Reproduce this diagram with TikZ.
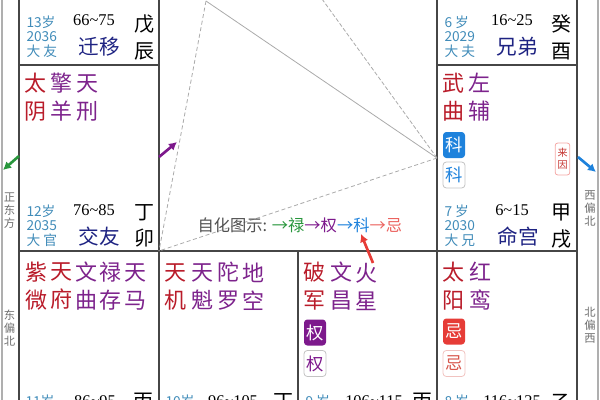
\documentclass[tikz,border=0pt]{standalone}
\usepackage{fontspec}
\setmainfont{Noto Sans CJK SC}
\newfontfamily\numfont{Liberation Serif}
\usetikzlibrary{arrows.meta}

\definecolor{gridgray}{RGB}{70,70,70}
\definecolor{framegray}{RGB}{175,175,175}
\definecolor{trigray}{RGB}{170,170,170}
\definecolor{mainred}{RGB}{185,28,42}
\definecolor{minorpurple}{RGB}{125,35,140}
\definecolor{palnavy}{RGB}{30,35,130}
\definecolor{agecol}{RGB}{65,140,185}
\definecolor{dirgray}{RGB}{110,110,110}
\definecolor{legendgray}{RGB}{80,80,80}
\definecolor{luGreen}{RGB}{40,150,60}
\definecolor{quanPurple}{RGB}{125,25,140}
\definecolor{keBlue}{RGB}{30,130,220}
\definecolor{jiRed}{RGB}{230,60,55}
\definecolor{jiSoft}{RGB}{215,85,75}
\definecolor{boxgray}{RGB}{195,195,195}

\tikzset{every picture/.style={line width=0.75pt}}
\tikzset{
  palline/.style={draw=gridgray, line width=1.3pt},
  star/.style={inner sep=0pt, align=center, font=\fontsize{16.5}{21}\selectfont},
  agetext/.style={anchor=west, inner sep=0pt, align=left, text=agecol, font=\fontsize{10.3}{10.9}\selectfont},
  rangetext/.style={inner sep=0pt, font=\numfont\fontsize{12.3}{14}\selectfont},
  palname/.style={inner sep=0pt, text=palnavy, font=\fontsize{15.5}{18}\selectfont},
  ganzhi/.style={inner sep=0pt, align=center, font=\fontsize{15}{19.9}\selectfont},
  sihuafill/.style={rounded corners=2.5pt, minimum width=16.5pt, minimum height=19.5pt, inner sep=0pt, text=white, font=\fontsize{13}{15}\selectfont},
  sihualine/.style={rounded corners=2.5pt, draw=boxgray, line width=0.6pt, minimum width=16.5pt, minimum height=19.5pt, inner sep=0pt, font=\fontsize{13}{15}\selectfont},
  dirtext/.style={inner sep=0pt, align=center, text=dirgray, font=\fontsize{8.5}{9.7}\selectfont},
  flyarrow/.style={line width=2pt, -{Latex[length=6pt,width=6.5pt]}}
}

\begin{document}
\begin{tikzpicture}[x=0.75pt,y=0.75pt,yscale=-1,xscale=1]
\useasboundingbox (0,0) rectangle (600,400);
\clip (0,0) rectangle (600,400);

%Outer frame
\draw [draw=framegray, line width=0.8pt] (2,-10) -- (2,410);
\draw [draw=framegray, line width=0.8pt] (598,-10) -- (598,410);

%Palace grid
\draw [palline] (19,-10) -- (19,410);
\draw [palline] (159,-10) -- (159,410);
\draw [palline] (437,-10) -- (437,410);
\draw [palline] (577,-10) -- (577,410);
\draw [palline] (298,251) -- (298,410);
\draw [palline] (19,65) -- (159,65);
\draw [palline] (437,65) -- (577,65);
\draw [palline] (19,251) -- (577,251);

%Sanfang lines
\coordinate (triTop) at (206,1);
\coordinate (triTopB) at (322,-1);
\coordinate (mingMid) at (437,158);
\coordinate (yinCorner) at (159,251);
\draw [draw=trigray, line width=0.6pt] (triTop) -- (mingMid);
\draw [draw=trigray, line width=0.6pt, dash pattern={on 3pt off 1.5pt}] (triTopB) -- (mingMid);
\draw [draw=trigray, line width=0.6pt, dash pattern={on 3pt off 2pt}] (triTop) -- (yinCorner);
\draw [draw=trigray, line width=0.6pt, dash pattern={on 3pt off 2pt}] (mingMid) -- (yinCorner);

% Direction labels
\node (dirZhengdong) [dirtext] at (9.5,211) {正\\东\\方};
\node (dirDongbei) [dirtext] at (9.5,328) {东\\偏\\北};
\node (dirXibei) [dirtext] at (590,208.5) {西\\偏\\北};
\node (dirBeixi) [dirtext] at (590,325.5) {北\\偏\\西};

%Fly arrows
\coordinate (arGreenS) at (19,156);
\coordinate (arGreenE) at (3,170);
\coordinate (arPurpleS) at (159,157);
\coordinate (arPurpleE) at (177,142);
\coordinate (arBlueS) at (578,157);
\coordinate (arBlueE) at (596,172);
\coordinate (arRedS) at (373,263);
\coordinate (arRedE) at (361,234);
\draw [flyarrow, draw=luGreen, fill=luGreen] (arGreenS) -- (arGreenE);
\draw [flyarrow, draw=quanPurple, fill=quanPurple] (arPurpleS) -- (arPurpleE);
\draw [flyarrow, draw=keBlue, fill=keBlue] (arBlueS) -- (arBlueE);
\draw [flyarrow, draw=jiRed, fill=jiRed] (arRedS) -- (arRedE);

% Text Node: legend
\node (legend) [anchor=west, inner sep=0pt, text=legendgray, font=\fontsize{12.2}{14}\selectfont] at (197,225) {自化图示: \textcolor{luGreen}{→禄}\textcolor{quanPurple}{→权}\textcolor{keBlue}{→科}\textcolor{jiRed!80!white}{→忌}};

%Palace chen: qianyi
\node (ageChen) [agetext] at (26,36.5) {13岁\\2036\\大 友};
\node (rangeChen) [rangetext] at (94,20) {66\textasciitilde75};
\node (nameChen) [palname] at (99,47) {迁移};
\node (gzChen) [ganzhi] at (144,37.5) {戊\\辰};

%Palace you: xiongdi
\node (ageYou) [agetext] at (444,36.5) {6 岁\\2029\\大 夫};
\node (rangeYou) [rangetext] at (512,20) {16\textasciitilde25};
\node (nameYou) [palname] at (517,47) {兄弟};
\node (gzYou) [ganzhi] at (561,37.5) {癸\\酉};

%Palace mao: jiaoyou
\node (sTaiyin) [star, text=mainred] at (35,97.5) {太\\阴};
\node (sQingyang) [star, text=minorpurple] at (61,97.5) {擎\\羊};
\node (sTianxing) [star, text=minorpurple] at (87,97.5) {天\\刑};
\node (ageMao) [agetext] at (26,225.5) {12岁\\2035\\大 官};
\node (rangeMao) [rangetext] at (94,210) {76\textasciitilde85};
\node (nameMao) [palname] at (99,236.5) {交友};
\node (gzMao) [ganzhi] at (144,226) {丁\\卯};

%Palace xu: minggong
\node (sWuqu) [star, text=mainred] at (453,97.5) {武\\曲};
\node (sZuofu) [star, text=minorpurple] at (479,97.5) {左\\辅};
\node (keFill) [sihuafill, fill=keBlue] at (454,145) {科};
\node (keLine) [sihualine, text=keBlue] at (454,175) {科};
\node (laiyin) [rounded corners=2pt, draw=jiRed!45!white, line width=0.6pt, minimum width=11pt, minimum height=24pt, inner sep=0pt, align=center, text=jiRed!85!black, font=\fontsize{7.5}{9}\selectfont] at (562.5,159) {来\\因};
\node (ageXu) [agetext] at (444,225.5) {7 岁\\2030\\大 兄};
\node (rangeXu) [rangetext] at (512,210) {6\textasciitilde15};
\node (nameXu) [palname] at (518,236.5) {命宫};
\node (gzXu) [ganzhi] at (561,226) {甲\\戌};

%Palace yin
\node (sZiwei) [star, text=mainred] at (36,286.5) {紫\\微};
\node (sTianfu) [star, text=mainred] at (61,286.5) {天\\府};
\node (sWenqu) [star, text=minorpurple] at (86,286.5) {文\\曲};
\node (sLucun) [star, text=minorpurple] at (110.5,286.5) {禄\\存};
\node (sTianma) [star, text=minorpurple] at (135,286.5) {天\\马};
\node (ageYin) [agetext] at (25,401) {11岁};
\node (rangeYin) [rangetext] at (95,401) {86\textasciitilde95};
\node (gzYin) [ganzhi] at (143,402) {丙};

%Palace chou
\node (sTianji) [star, text=mainred] at (175,286.5) {天\\机};
\node (sTiankui) [star, text=minorpurple] at (202,286.5) {天\\魁};
\node (sTuoluo) [star, text=minorpurple] at (228,286.5) {陀\\罗};
\node (sDikong) [star, text=minorpurple] at (253,286.5) {地\\空};
\node (ageChou) [agetext] at (165,401) {10岁};
\node (rangeChou) [rangetext] at (233,401) {96\textasciitilde105};
\node (gzChou) [ganzhi] at (283,402) {丁};

%Palace zi
\node (sPojun) [star, text=mainred] at (314,286.5) {破\\军};
\node (sWenchang) [star, text=minorpurple] at (341,286.5) {文\\昌};
\node (sHuoxing) [star, text=minorpurple] at (366,286.5) {火\\星};
\node (quanFill) [sihuafill, fill=quanPurple] at (315,332.5) {权};
\node (quanLine) [sihualine, text=quanPurple] at (315,363.5) {权};
\node (ageZi) [agetext] at (305,401) {9 岁};
\node (rangeZi) [rangetext] at (374,401) {106\textasciitilde115};
\node (gzZi) [ganzhi] at (422,402) {丙};

%Palace hai
\node (sTaiyang) [star, text=mainred] at (453,286.5) {太\\阳};
\node (sHongluan) [star, text=minorpurple] at (480,286.5) {红\\鸾};
\node (jiFill) [sihuafill, fill=jiRed] at (454,331.5) {忌};
\node (jiLine) [sihualine, draw=jiSoft!35!white, text=jiSoft] at (454,363.5) {忌};
\node (ageHai) [agetext] at (444,401) {8 岁};
\node (rangeHai) [rangetext] at (512,401) {116\textasciitilde125};
\node (gzHai) [ganzhi] at (561,402) {乙};
\end{tikzpicture}
\end{document}
